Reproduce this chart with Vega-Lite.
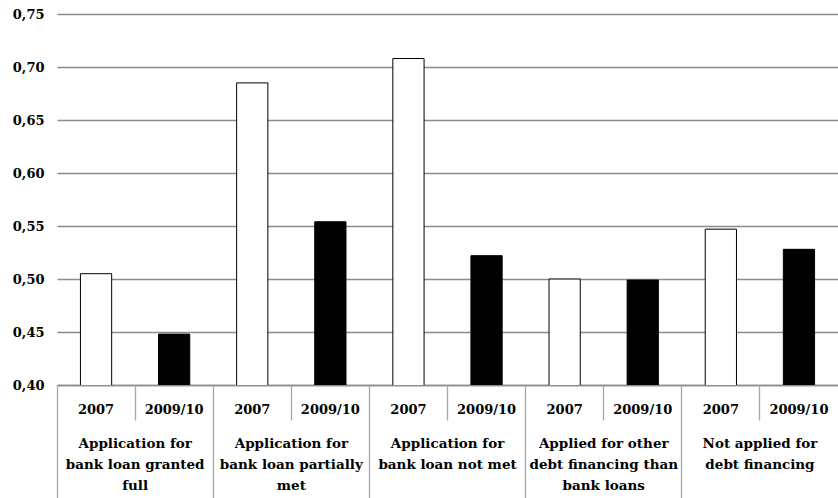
{
  "$schema": "https://vega.github.io/schema/vega-lite/v6.json",
  "width": 781,
  "height": 371,
  "autosize": "none",
  "padding": {"left": 57, "top": 14, "right": 0, "bottom": 113},
  "background": "white",
  "config": {"view": {"stroke": null}, "font": "DejaVu Serif"},
  "data": {
    "values": [
      {"group": "Application for bank loan granted full", "year": "2007", "value": 0.505},
      {"group": "Application for bank loan granted full", "year": "2009/10", "value": 0.448},
      {"group": "Application for bank loan partially met", "year": "2007", "value": 0.685},
      {"group": "Application for bank loan partially met", "year": "2009/10", "value": 0.554},
      {"group": "Application for bank loan not met", "year": "2007", "value": 0.708},
      {"group": "Application for bank loan not met", "year": "2009/10", "value": 0.522},
      {"group": "Applied for other debt financing than bank loans", "year": "2007", "value": 0.5},
      {"group": "Applied for other debt financing than bank loans", "year": "2009/10", "value": 0.499},
      {"group": "Not applied for debt financing", "year": "2007", "value": 0.547},
      {"group": "Not applied for debt financing", "year": "2009/10", "value": 0.528}
    ]
  },
  "transform": [{"calculate": "datum.group + '|' + datum.year", "as": "key"}],
  "encoding": {
    "y": {
      "field": "value",
      "type": "quantitative",
      "scale": {"domain": [0.4, 0.75], "zero": false, "nice": false},
      "axis": {
        "title": null,
        "values": [0.4, 0.45, 0.5, 0.55, 0.6, 0.65, 0.7, 0.75],
        "labelExpr": "replace(format(datum.value, '.2f'), '.', ',')",
        "grid": true,
        "gridColor": "#8c8c8c",
        "gridWidth": 1.3,
        "domain": false,
        "ticks": false,
        "tickSize": 0,
        "labelPadding": 13,
        "labelFont": "DejaVu Serif",
        "labelFontWeight": "bold",
        "labelFontSize": 13,
        "labelColor": "black"
      }
    }
  },
  "layer": [
    {
      "mark": {"type": "bar", "width": {"band": 0.4}, "stroke": "black", "strokeWidth": 1, "clip": true},
      "encoding": {
        "x": {
          "field": "key",
          "type": "nominal",
          "sort": null,
          "scale": {"paddingInner": 0, "paddingOuter": 0},
          "axis": {
            "orient": "bottom",
            "title": null,
            "labelExpr": "split(datum.value, '|')[1]",
            "ticks": false,
            "tickSize": 0,
            "labelPadding": 18,
            "domain": true,
            "domainColor": "#8c8c8c",
            "domainWidth": 1.3,
            "labelAngle": 0,
            "labelFont": "DejaVu Serif",
            "labelFontWeight": "bold",
            "labelFontSize": 13,
            "labelColor": "black",
            "grid": false
          }
        },
        "fill": {
          "field": "year",
          "type": "nominal",
          "scale": {"domain": ["2007", "2009/10"], "range": ["white", "black"]},
          "legend": null
        }
      }
    },
    {
      "mark": {"type": "bar", "opacity": 0, "clip": true},
      "encoding": {
        "x": {
          "field": "key",
          "type": "nominal",
          "sort": null,
          "axis": {
            "orient": "bottom",
            "title": null,
            "values": [
              "Application for bank loan granted full|2009/10",
              "Application for bank loan partially met|2009/10",
              "Application for bank loan not met|2009/10",
              "Applied for other debt financing than bank loans|2009/10",
              "Not applied for debt financing|2009/10"
            ],
            "bandPosition": 0,
            "ticks": true,
            "tickSize": 35,
            "tickColor": "#a6a6a6",
            "tickWidth": 1.3,
            "domain": false,
            "grid": false,
            "labelExpr": "indexof(datum.value, 'granted') >= 0 ? ['Application for', 'bank loan granted', 'full'] : indexof(datum.value, 'partially') >= 0 ? ['Application for', 'bank loan partially', 'met'] : indexof(datum.value, 'not met') >= 0 ? ['Application for', 'bank loan not met'] : indexof(datum.value, 'other') >= 0 ? ['Applied for other', 'debt financing than', 'bank loans'] : ['Not applied for', 'debt financing']",
            "labelOffset": -39,
            "labelPadding": 16,
            "labelLineHeight": 21,
            "labelAngle": 0,
            "labelFont": "DejaVu Serif",
            "labelFontWeight": "bold",
            "labelFontSize": 13.5,
            "labelColor": "black"
          }
        }
      }
    },
    {
      "mark": {"type": "bar", "opacity": 0, "clip": true},
      "encoding": {
        "x": {
          "field": "key",
          "type": "nominal",
          "sort": null,
          "axis": {
            "orient": "bottom",
            "title": null,
            "values": [
              "Application for bank loan granted full|2007",
              "Application for bank loan partially met|2007",
              "Application for bank loan not met|2007",
              "Applied for other debt financing than bank loans|2007",
              "Not applied for debt financing|2007"
            ],
            "bandPosition": 0,
            "ticks": true,
            "tickSize": 115,
            "tickColor": "#a6a6a6",
            "tickWidth": 1.3,
            "domain": false,
            "grid": false,
            "labels": false
          }
        }
      }
    }
  ],
  "resolve": {"axis": {"x": "independent"}}
}
